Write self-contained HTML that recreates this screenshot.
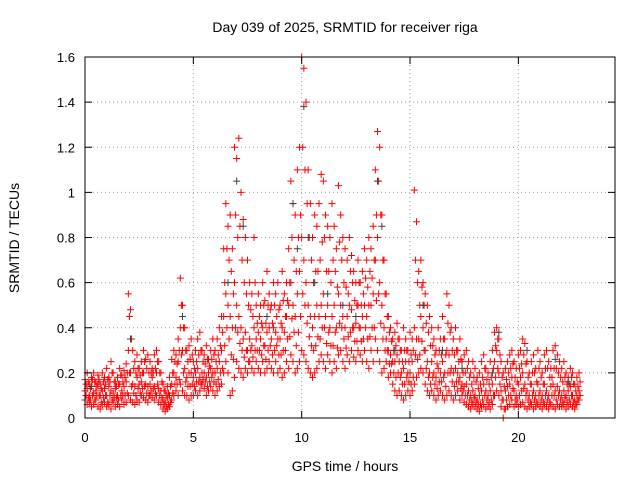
<!DOCTYPE html>
<html><head><meta charset="utf-8"><style>
body{margin:0;background:#fff;}
svg{display:block;font-family:"Liberation Sans",sans-serif;}
</style></head><body>
<svg id="chart" width="640" height="480" viewBox="0 0 640 480">
<rect width="640" height="480" fill="#fff"/>
<text x="345" y="32" font-size="14" text-anchor="middle">Day 039 of 2025, SRMTID for receiver riga</text>
<text transform="translate(19,238) rotate(-90)" font-size="14" text-anchor="middle">SRMTID / TECUs</text>
<text x="345" y="471" font-size="14" text-anchor="middle">GPS time / hours</text>
<g id="grid"></g>
<g id="marks"></g>
<rect x="85" y="57" width="530" height="361" fill="none" stroke="#000" stroke-width="1"/>
<g id="axes"></g>
</svg>
<script>
const xTicks=[0,5,10,15,20];
const yTicks=[0,0.2,0.4,0.6,0.8,1,1.2,1.4,1.6];
const yTickLabels=["0","0.2","0.4","0.6","0.8","1","1.2","1.4","1.6"];
const t0=0, dt=0.1;
const hiVals=[.17,.2,.15,.18,.2,.16,.19,.15,.2,.18,
.22,.18,.25,.2,.16,.18,.22,.19,.21,.24,
.55,.48,.3,.25,.28,.22,.25,.3,.26,.28,
.25,.22,.28,.3,.25,.2,.15,.12,.14,.18,
.26,.3,.28,.35,.62,.5,.4,.3,.32,.35,
.25,.3,.35,.38,.3,.28,.32,.26,.3,.35,
.3,.35,.4,.45,.75,.95,.85,.9,.75,1.2,
1.15,1.24,1.0,.88,.8,.7,.6,.55,.8,.5,
.55,.5,.6,.52,.65,.55,.5,.6,.55,.6,
.5,.65,.55,.6,.75,1.05,.95,.9,1.1,1.2,
1.6,1.55,1.4,1.1,.95,.8,.9,.85,.95,1.08,
1.05,.9,.85,.8,.95,.85,.75,1.03,.9,.8,
.75,.7,.8,.72,.65,.6,.7,.6,.65,.75,
.7,.8,.75,.85,1.1,1.27,1.2,.9,.7,.55,
.45,.4,.35,.38,.42,.35,.3,.4,.35,.3,
.38,.35,1.01,.87,.65,.7,.6,.55,.5,.45,
.4,.35,.3,.4,.35,.45,.35,.55,.5,.4,
.35,.4,.3,.35,.25,.28,.3,.25,.2,.25,
.22,.18,.2,.25,.28,.22,.2,.25,.3,.38,
.4,.35,.25,.2,.22,.25,.28,.3,.25,.22,
.28,.3,.35,.33,.25,.2,.25,.28,.22,.3,
.25,.2,.28,.3,.25,.22,.3,.32,.28,.25,
.22,.25,.2,.18,.22,.2,.15,.18,.2];
const upperMidVals=[.15,.16,.13,.17,.16,.14,.17,.13,.16,.15,
.17,.16,.2,.16,.14,.15,.19,.16,.18,.2,
.45,.35,.22,.2,.22,.19,.2,.25,.22,.2,
.2,.2,.22,.25,.2,.16,.12,.1,.11,.14,
.2,.25,.24,.3,.5,.4,.3,.25,.26,.28,
.22,.25,.28,.3,.25,.24,.26,.23,.26,.28,
.25,.28,.32,.38,.6,.75,.7,.65,.55,.9,
.8,.85,.7,.6,.55,.5,.48,.45,.6,.42,
.45,.42,.5,.42,.5,.48,.42,.5,.45,.48,
.42,.52,.45,.52,.6,.8,.7,.65,.8,.9,
1.2,1.1,.95,.8,.7,.6,.65,.65,.7,.78,
.8,.65,.65,.6,.7,.65,.58,.78,.7,.6,
.58,.55,.65,.6,.52,.5,.6,.5,.55,.62,
.58,.65,.62,.7,.9,1.05,.9,.7,.55,.45,
.38,.34,.3,.32,.35,.3,.25,.3,.3,.25,
.28,.3,.7,.6,.5,.58,.5,.42,.38,.32,
.32,.28,.24,.3,.28,.35,.28,.42,.38,.3,
.28,.3,.25,.26,.2,.2,.22,.18,.15,.18,
.16,.13,.15,.18,.22,.17,.15,.18,.22,.32,
.35,.28,.18,.14,.17,.2,.22,.24,.18,.16,
.22,.24,.28,.24,.18,.15,.2,.2,.16,.22,
.18,.15,.22,.22,.18,.18,.22,.22,.2,.18,
.16,.18,.15,.15,.18,.15,.12,.14,.16];
const midVals=[.12,.13,.1,.14,.11,.12,.15,.1,.12,.13,
.1,.14,.12,.11,.13,.1,.15,.12,.14,.16,
.3,.2,.15,.14,.18,.15,.16,.2,.15,.14,
.15,.18,.14,.2,.13,.12,.08,.07,.09,.1,
.15,.2,.18,.25,.4,.3,.22,.18,.2,.2,
.18,.2,.22,.18,.2,.2,.18,.2,.22,.2,
.2,.22,.25,.3,.45,.55,.5,.45,.4,.6,
.5,.45,.4,.35,.38,.3,.35,.32,.4,.35,
.38,.35,.4,.32,.38,.4,.35,.4,.38,.35,
.35,.4,.38,.45,.5,.6,.5,.45,.55,.65,
.8,.7,.6,.5,.45,.4,.45,.5,.45,.5,
.55,.45,.5,.4,.45,.5,.4,.55,.5,.45,
.4,.45,.5,.48,.4,.42,.5,.4,.45,.5,
.45,.5,.5,.55,.7,.8,.6,.5,.4,.35,
.3,.28,.25,.25,.28,.25,.2,.22,.25,.2,
.2,.25,.4,.35,.35,.45,.4,.3,.25,.2,
.25,.2,.18,.22,.2,.25,.2,.3,.28,.22,
.2,.22,.2,.18,.15,.14,.15,.12,.1,.12,
.1,.08,.1,.12,.15,.12,.1,.12,.15,.25,
.3,.2,.12,.08,.12,.14,.15,.18,.12,.1,
.15,.18,.2,.15,.12,.1,.15,.12,.1,.15,
.12,.1,.15,.12,.1,.14,.15,.12,.14,.12,
.1,.12,.1,.12,.14,.1,.08,.1,.12];
const lowerMidVals=[.1,.09,.08,.1,.08,.1,.1,.07,.09,.1,
.07,.1,.08,.09,.09,.08,.1,.1,.1,.11,
.2,.14,.11,.1,.13,.11,.13,.14,.11,.1,
.12,.13,.11,.15,.1,.09,.06,.05,.06,.07,
.11,.15,.15,.17,.28,.2,.16,.14,.14,.15,
.14,.16,.16,.15,.17,.16,.14,.16,.18,.16,
.15,.17,.2,.22,.32,.4,.35,.28,.26,.4,
.38,.33,.3,.27,.3,.25,.3,.27,.3,.3,
.3,.28,.32,.26,.3,.32,.28,.3,.32,.28,
.28,.3,.3,.35,.36,.44,.38,.32,.38,.45,
.55,.5,.42,.36,.32,.3,.32,.36,.35,.4,
.4,.33,.38,.32,.32,.38,.31,.42,.4,.35,
.31,.36,.38,.4,.34,.34,.4,.34,.35,.4,
.35,.36,.4,.4,.52,.55,.42,.35,.3,.3,
.24,.24,.2,.18,.2,.18,.15,.15,.18,.16,
.15,.18,.28,.26,.28,.34,.3,.22,.18,.15,
.18,.15,.13,.16,.16,.18,.14,.2,.2,.16,
.14,.16,.16,.13,.12,.1,.1,.08,.07,.09,
.07,.06,.06,.08,.1,.08,.07,.08,.1,.18,
.22,.15,.08,.04,.08,.1,.1,.13,.08,.08,
.1,.12,.13,.1,.08,.07,.1,.08,.07,.1,
.08,.07,.1,.08,.07,.1,.1,.08,.1,.08,
.07,.09,.07,.08,.1,.07,.06,.08,.1];
const loVals=[.08,.06,.07,.05,.06,.08,.05,.04,.06,.07,
.05,.06,.04,.07,.05,.06,.05,.08,.06,.07,
.1,.08,.07,.06,.08,.07,.1,.09,.08,.07,
.1,.09,.08,.1,.07,.06,.04,.03,.04,.05,
.08,.1,.12,.1,.15,.12,.1,.1,.08,.1,
.1,.12,.1,.12,.15,.13,.1,.12,.14,.12,
.1,.12,.14,.15,.2,.25,.2,.1,.12,.18,
.25,.22,.2,.18,.22,.2,.25,.22,.2,.25,
.22,.2,.25,.2,.22,.25,.22,.2,.25,.2,
.22,.18,.2,.25,.22,.28,.25,.2,.22,.25,
.3,.28,.25,.22,.2,.18,.2,.22,.25,.28,
.25,.22,.28,.25,.2,.25,.22,.28,.3,.25,
.22,.28,.25,.3,.27,.25,.3,.28,.25,.3,
.25,.22,.3,.25,.35,.3,.25,.2,.22,.25,
.18,.2,.15,.12,.1,.12,.1,.08,.1,.12,
.1,.12,.15,.18,.2,.22,.2,.15,.12,.1,
.12,.1,.08,.1,.12,.1,.08,.1,.12,.1,
.08,.1,.12,.08,.1,.07,.06,.05,.04,.06,
.05,.04,.03,.05,.06,.04,.05,.04,.06,.1,
.12,.1,.05,0,.04,.05,.06,.08,.05,.06,
.05,.06,.07,.05,.04,.05,.06,.04,.05,.06,
.05,.04,.06,.05,.04,.06,.05,.04,.06,.05,
.05,.06,.04,.05,.06,.05,.04,.06,.08];
const grayTimes=[0.3,2.1,4.5,6.6,7.0,7.3,8.4,9.6,9.8,10.1,10.3,10.6,11.2,11.9,12.5,13.5,13.7,14.3,15.6,16.5,17.4,18.8,19.1,20.4,21.7,22.3];
const grayVals=[.14,.35,.45,.6,1.05,.85,.45,.95,.75,1.38,.8,.6,.55,.5,.45,1.05,.85,.3,.5,.3,.22,.2,.38,.3,.26,.16];

const X0=85,X1=615,Y0=418,Y1=57,XMAX=24.46,YMAX=1.6;
const xs=v=>X0+(v/XMAX)*(X1-X0);
const ys=v=>Y0-(v/YMAX)*(Y0-Y1);
const NS="http://www.w3.org/2000/svg";
const grid=document.getElementById('grid'),axes=document.getElementById('axes'),marks=document.getElementById('marks');
function mk(tag,attrs,parent){const e=document.createElementNS(NS,tag);for(const k in attrs)e.setAttribute(k,attrs[k]);parent.appendChild(e);return e;}
xTicks.forEach(v=>{const x=xs(v);
 if(v>0){const g=mk('line',{x1:x,x2:x,y1:Y0,y2:Y1,stroke:'#a0a0a0','stroke-dasharray':'1,3'},grid);
 }
 const t1=mk('line',{x1:x,x2:x,y1:Y0,y2:Y0-7,stroke:'#000'},axes);
 
 const t2=mk('line',{x1:x,x2:x,y1:Y1,y2:Y1+7,stroke:'#000'},axes);
 
 const l=mk('text',{x:x,y:Y0+24,'font-size':13,'text-anchor':'middle'},axes);l.textContent=String(v);
 });
yTicks.forEach((v,i)=>{const y=ys(v);
 if(v>0&&v<YMAX){const g=mk('line',{x1:X0,x2:X1,y1:y,y2:y,stroke:'#a0a0a0','stroke-dasharray':'1,3'},grid);
 }
 const t1=mk('line',{x1:X0,x2:X0+7,y1:y,y2:y,stroke:'#000'},axes);
 
 const t2=mk('line',{x1:X1,x2:X1-7,y1:y,y2:y,stroke:'#000'},axes);
 
 const l=mk('text',{x:X0-10,y:y+5,'font-size':13,'text-anchor':'end'},axes);l.textContent=yTickLabels[i];
 });
function plus(t,v,color){const x=xs(t),y=ys(v);
 const p=mk('path',{d:`M${x-3.5},${y}H${x+3.5}M${x},${y-3.5}V${y+3.5}`,stroke:color,'stroke-width':1,fill:'none'},marks);
 }
[loVals,midVals,hiVals].forEach(arr=>arr.forEach((v,i)=>plus(t0+i*dt,v,'#ff0000')));
[lowerMidVals,upperMidVals].forEach(arr=>arr.forEach((v,i)=>plus(t0+i*dt+dt/2,v,'#ff0000')));
grayTimes.forEach((t,i)=>plus(t,grayVals[i],'#404040'));
</script>
</body></html>
